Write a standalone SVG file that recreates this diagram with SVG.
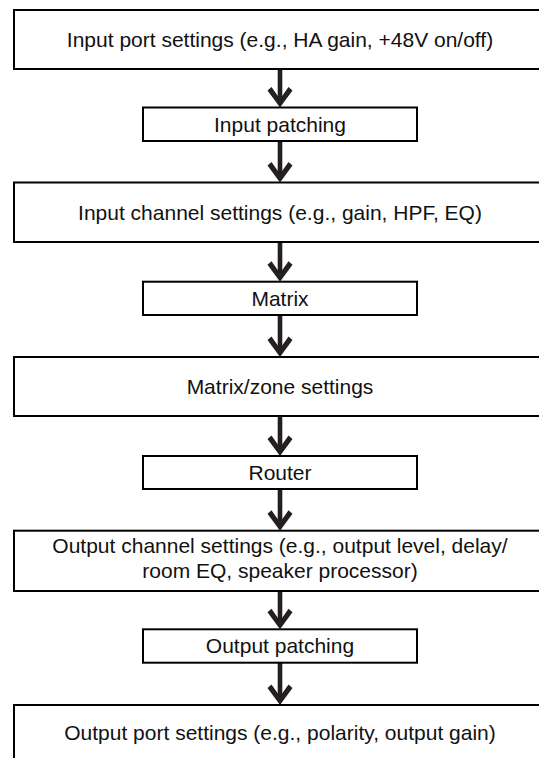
<svg xmlns="http://www.w3.org/2000/svg" xmlns:xlink="http://www.w3.org/1999/xlink" width="539" height="758" viewBox="0 0 539 758">
<style>
  .box { fill: #ffffff; stroke: #000000; stroke-width: 2; }
  .lbl { font-family: "Liberation Sans", Arial, Helvetica, sans-serif; font-size: 21px; fill: #111111; text-anchor: middle; }
  .shaft { fill: #231f20; }
  .head { fill: #231f20; }
</style>
<defs>
  <polygon id="ah" class="head" points="0,0 -12.5,-17 -8.5,-20.5 0,-8.4 8.5,-20.5 12.5,-17"/>
</defs>
<rect width="539" height="758" fill="#ffffff"/>
<g id="connectors">
  <rect class="shaft" x="277.7" y="69" width="4.6" height="32"/>
  <use xlink:href="#ah" href="#ah" x="280" y="107.5"/>
  <rect class="shaft" x="277.7" y="141" width="4.6" height="35"/>
  <use xlink:href="#ah" href="#ah" x="280" y="182.5"/>
  <rect class="shaft" x="277.7" y="242" width="4.6" height="33"/>
  <use xlink:href="#ah" href="#ah" x="280" y="281.7"/>
  <rect class="shaft" x="277.7" y="315" width="4.6" height="35"/>
  <use xlink:href="#ah" href="#ah" x="280" y="357"/>
  <rect class="shaft" x="277.7" y="416" width="4.6" height="33"/>
  <use xlink:href="#ah" href="#ah" x="280" y="456"/>
  <rect class="shaft" x="277.7" y="489" width="4.6" height="35"/>
  <use xlink:href="#ah" href="#ah" x="280" y="530.7"/>
  <rect class="shaft" x="277.7" y="591" width="4.6" height="32"/>
  <use xlink:href="#ah" href="#ah" x="280" y="629.3"/>
  <rect class="shaft" x="277.7" y="662.7" width="4.6" height="36"/>
  <use xlink:href="#ah" href="#ah" x="280" y="705"/>
</g>
<g id="input-port">
  <rect class="box" x="14" y="10" width="534" height="59"/>
  <text class="lbl" x="280" y="47">Input port settings (e.g., HA gain, +48V on/off)</text>
</g>
<g id="input-patching">
  <rect class="box" x="143" y="107.5" width="274" height="33.5"/>
  <text class="lbl" x="280" y="131.5">Input patching</text>
</g>
<g id="input-channel">
  <rect class="box" x="14" y="182.5" width="534" height="59.5"/>
  <text class="lbl" x="280" y="219.5">Input channel settings (e.g., gain, HPF, EQ)</text>
</g>
<g id="matrix">
  <rect class="box" x="143" y="281.7" width="274" height="33.3"/>
  <text class="lbl" x="280" y="305.5">Matrix</text>
</g>
<g id="matrix-zone">
  <rect class="box" x="14" y="357" width="534" height="59"/>
  <text class="lbl" x="280" y="394">Matrix/zone settings</text>
</g>
<g id="router">
  <rect class="box" x="143" y="456" width="274" height="33"/>
  <text class="lbl" x="280" y="480">Router</text>
</g>
<g id="output-channel">
  <rect class="box" x="14" y="530.7" width="534" height="60.3"/>
  <text class="lbl" x="280" y="553">Output channel settings (e.g., output level, delay/</text>
  <text class="lbl" x="280" y="578">room EQ, speaker processor)</text>
</g>
<g id="output-patching">
  <rect class="box" x="143" y="629.3" width="274" height="33.4"/>
  <text class="lbl" x="280" y="653">Output patching</text>
</g>
<g id="output-port">
  <rect class="box" x="14" y="705" width="534" height="70"/>
  <text class="lbl" x="280" y="740">Output port settings (e.g., polarity, output gain)</text>
</g>
</svg>
